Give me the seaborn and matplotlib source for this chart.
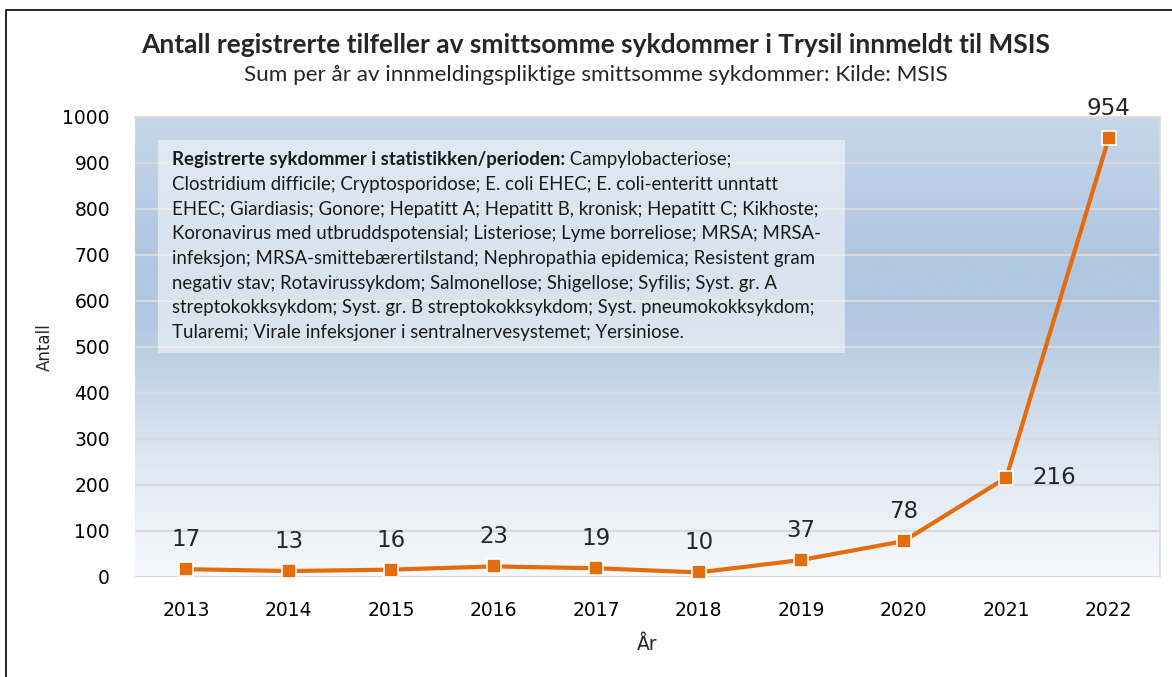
import matplotlib
matplotlib.use("Agg")
import matplotlib.pyplot as plt
import matplotlib.patches as patches
from matplotlib.colors import LinearSegmentedColormap
import seaborn as sns
import numpy as np
import pandas as pd

years = ["2013", "2014", "2015", "2016", "2017", "2018", "2019", "2020", "2021", "2022"]
antall = [17, 13, 16, 23, 19, 10, 37, 78, 216, 954]

title = "Antall registrerte tilfeller av smittsomme sykdommer i Trysil innmeldt til MSIS"
subtitle = "Sum per år av innmeldingspliktige smittsomme sykdommer: Kilde: MSIS"
box_head = "Registrerte sykdommer i statistikken/perioden:"
box_lines = [
    " Campylobacteriose;",
    "Clostridium difficile; Cryptosporidose; E. coli EHEC; E. coli-enteritt unntatt",
    "EHEC; Giardiasis; Gonore; Hepatitt A; Hepatitt B, kronisk; Hepatitt C; Kikhoste;",
    "Koronavirus med utbruddspotensial; Listeriose; Lyme borreliose; MRSA; MRSA-",
    "infeksjon; MRSA-smittebærertilstand; Nephropathia epidemica; Resistent gram",
    "negativ stav; Rotavirussykdom; Salmonellose; Shigellose; Syfilis; Syst. gr. A",
    "streptokokksykdom; Syst. gr. B streptokokksykdom; Syst. pneumokokksykdom;",
    "Tularemi; Virale infeksjoner i sentralnervesystemet; Yersiniose.",
]

df = pd.DataFrame({"year": years, "antall": antall})
df["pos"] = range(len(df))

sns.set_style("white")
plt.rcParams["font.family"] = ["Lato", "DejaVu Sans"]

orange = "#e46c0a"
W, H = 1172, 677
fig = plt.figure(figsize=(W / 100, H / 100), dpi=100)
ax = fig.add_axes([135 / W, 1 - 577 / H, (1160 - 135) / W, (577 - 117) / H])

# figure frame (left and top edge visible)
fig.patches.append(patches.Rectangle((6 / W, -0.1), 1.2, (1 - 10 / H) + 0.1,
                                     transform=fig.transFigure, fill=False,
                                     edgecolor="black", lw=1.2))

# gradient background
cmap = LinearSegmentedColormap.from_list("bg", [
    (0.0, "#f6f8fc"), (0.1, "#eef2f8"), (0.2, "#e4ebf4"), (0.3, "#d8e3ef"),
    (0.4, "#c9d8ea"), (0.5, "#bacde3"), (0.6, "#b0c7e0"), (0.7, "#b0c7e0"),
    (0.85, "#bacee4"), (1.0, "#c8d7ea")])
grad = np.linspace(0, 1, 256).reshape(-1, 1)
ax.imshow(grad, cmap=cmap, aspect="auto", origin="lower",
          extent=[-0.5, 9.5, 0, 1000], zorder=0)

for yv in range(0, 1001, 100):
    ax.axhline(yv, color="#d9d9d9", lw=1.5, zorder=1)

sns.lineplot(data=df, x="pos", y="antall", ax=ax, color=orange, lw=3,
             marker="s", markersize=10.5, markerfacecolor=orange,
             markeredgecolor="white", markeredgewidth=1.2, zorder=5)

ax.set_xlim(-0.5, 9.5)
ax.set_ylim(0, 1000)
ax.set_xticks(df["pos"])
ax.set_xticklabels(years)
ax.set_yticks(range(0, 1001, 100))
ax.tick_params(axis="both", length=0, labelsize=13.5, colors="black")
ax.tick_params(axis="x", pad=17)
ax.tick_params(axis="y", pad=18)
for lab in ax.get_xticklabels() + ax.get_yticklabels():
    lab.set_family("DejaVu Sans")
ax.set_xlabel("År", fontsize=13.5, family="DejaVu Sans")
ax.xaxis.set_label_coords(0.5, (577 - 645) / 460, transform=ax.transAxes)
ax.xaxis.label.set_va("center")
ax.set_ylabel("Antall", fontsize=12, family="DejaVu Sans")
ax.yaxis.set_label_coords((45 - 135) / 1025, 0.5, transform=ax.transAxes)
ax.yaxis.label.set_va("center")
for s in ax.spines.values():
    s.set_color("#d9d9d9")
    s.set_linewidth(1.2)
ax.spines["left"].set_visible(False)
ax.spines["bottom"].set_visible(False)

# data labels
for p, v in zip(df["pos"], df["antall"]):
    if v == 216:
        ax.annotate(str(v), (p, v), xytext=(19, 0), textcoords="offset points",
                    ha="left", va="center", fontsize=16.5, family="DejaVu Sans")
    else:
        ax.annotate(str(v), (p, v), xytext=(0, 13), textcoords="offset points",
                    ha="center", va="bottom", fontsize=16.5, family="DejaVu Sans")

# text box
box = patches.Rectangle((158 / W, 1 - 353 / H), (845 - 158) / W, (353 - 140) / H,
                        transform=fig.transFigure, facecolor="white", alpha=0.5,
                        edgecolor="none", zorder=3)
fig.patches.append(box)

fs_box = 13.4
x0 = 172 / W
y0 = 1 - 160 / H
step = 24.6 / H
head = fig.text(x0, y0, box_head, fontsize=fs_box, fontweight="bold",
                va="center", color="#1a1a1a", zorder=4)
fig.canvas.draw()
bb = head.get_window_extent()
fig.text(bb.x1 / W, y0, box_lines[0], fontsize=fs_box, va="center",
         color="#1a1a1a", zorder=4)
for i, line in enumerate(box_lines[1:], start=1):
    fig.text(x0, y0 - i * step, line, fontsize=fs_box, va="center",
             color="#1a1a1a", zorder=4)

fig.text(596 / W, 1 - 45 / H, title, ha="center", va="center",
         fontsize=19, fontweight="bold")
fig.text(596 / W, 1 - 75 / H, subtitle, ha="center", va="center",
         fontsize=16.2)

fig.savefig("out.png", dpi=100)
